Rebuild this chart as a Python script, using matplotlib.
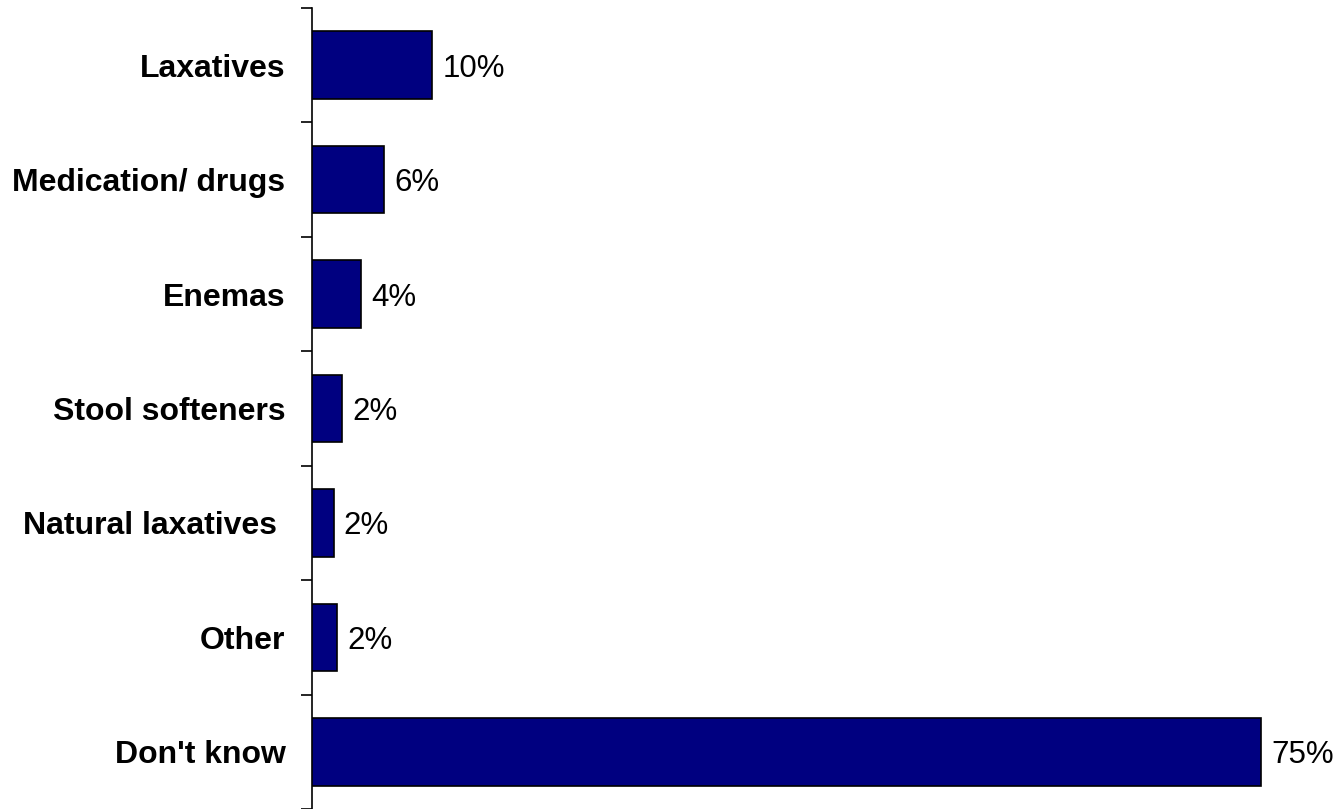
import matplotlib
matplotlib.use("Agg")
import matplotlib.pyplot as plt
import numpy as np

categories = ["Laxatives", "Medication/ drugs", "Enemas", "Stool softeners",
              "Natural laxatives ", "Other", "Don't know"]
values = [9.5, 5.7, 3.9, 2.4, 1.7, 2.0, 75.0]
value_labels = ["10%", "6%", "4%", "2%", "2%", "2%", "75%"]

plt.rcParams['font.family'] = ['Liberation Sans', 'DejaVu Sans']

fig = plt.figure(figsize=(13.41, 8.09), dpi=100)
fig.patch.set_facecolor('white')

ax = fig.add_axes([312 / 1341, 0.0, 0.755, 1 - 8 / 809])
ax.patch.set_alpha(0)

y = np.arange(len(categories))
ax.barh(y, values, height=0.59, color='#000080', edgecolor='black', linewidth=1.2, zorder=3)

for yi, v, lab in zip(y, values, value_labels):
    ax.text(v + 0.8, yi, lab, va='center_baseline', ha='left', fontsize=22.5, color='black')

ax.set_xlim(0, 80)
ax.set_ylim(len(categories) - 0.5, -0.5)
ax.set_yticks(y)
ax.set_yticklabels(categories, fontsize=23, fontweight='bold', va='center_baseline')
ax.tick_params(axis='y', which='major', length=0, pad=19)
ax.set_yticks(np.arange(-0.5, len(categories), 1.0), minor=True)
ax.tick_params(axis='y', which='minor', length=8, width=1.2, direction='out')
ax.set_xticks([])
for s in ['top', 'right', 'bottom']:
    ax.spines[s].set_visible(False)
ax.spines['left'].set_linewidth(1.2)

fig.savefig("out.png", dpi=100, facecolor='white')
